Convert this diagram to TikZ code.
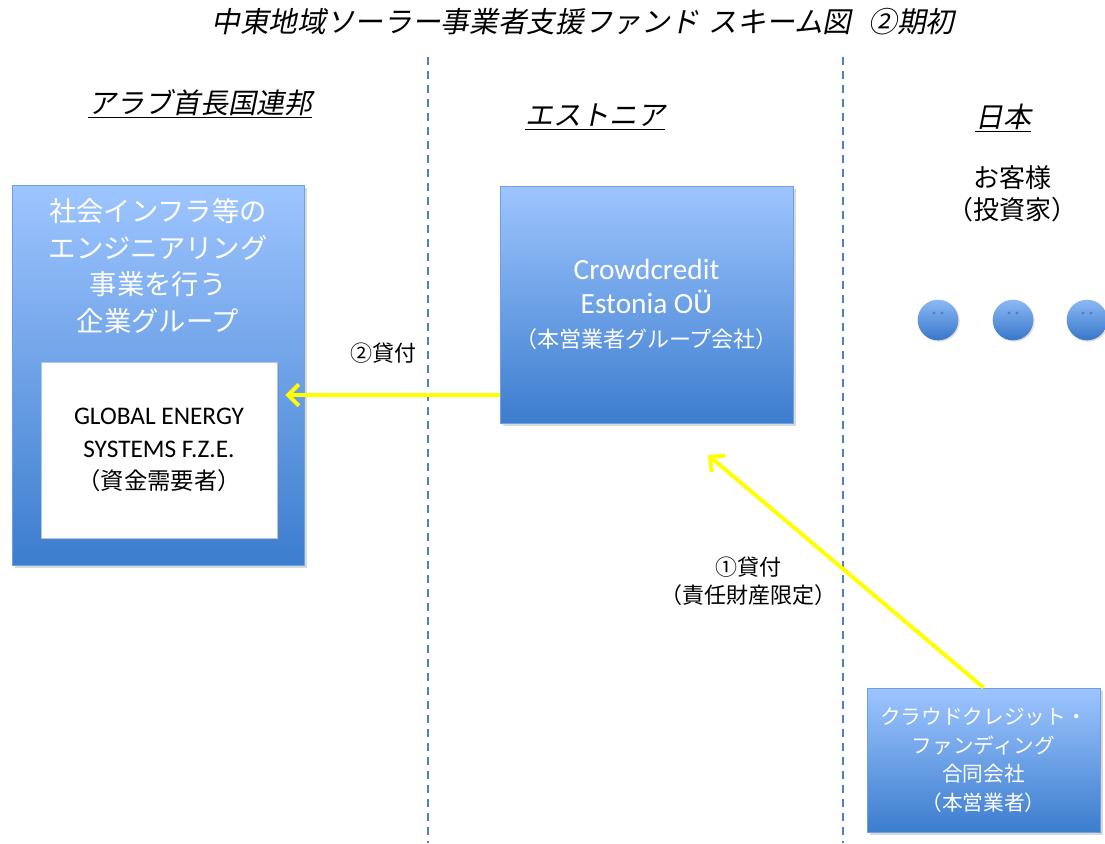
\documentclass[tikz,border=0pt]{standalone}
\usepackage{fontspec}
\usepackage{xcolor}
\usepackage{tikz}
\usetikzlibrary{arrows.meta,shadows}
\setmainfont{Carlito}
\newfontfamily\jp{Noto Sans CJK JP}
\newfontfamily\jpit[FakeSlant=0.2]{Noto Sans CJK JP}
\definecolor{boxtop}{RGB}{158,197,255}
\definecolor{boxbot}{RGB}{60,125,206}
\definecolor{boxedge}{RGB}{110,160,225}
\definecolor{divblue}{RGB}{79,129,189}
\definecolor{loanyellow}{RGB}{255,255,0}
\definecolor{facetop}{RGB}{140,185,245}
\definecolor{facebot}{RGB}{55,118,200}

\begin{document}
\begin{tikzpicture}[x=0.75pt,y=0.75pt,yscale=-1,xscale=1,
  bluebox/.style={rectangle, draw=boxedge, line width=0.6pt, top color=boxtop, bottom color=boxbot,
    drop shadow={opacity=0.3, shadow xshift=2pt, shadow yshift=-2pt}},
  whitebox/.style={rectangle, draw=boxedge!60, line width=0.5pt, fill=white,
    drop shadow={opacity=0.3, shadow xshift=1.5pt, shadow yshift=-1.5pt}},
  face/.style={circle, minimum size=30.5pt, inner sep=0pt, top color=facetop, bottom color=facebot,
    drop shadow={opacity=0.25, shadow xshift=1pt, shadow yshift=-1pt}},
  divider/.style={draw=divblue, line width=2.2pt, dash pattern=on 6pt off 4.5pt},
  loan/.style={draw=loanyellow, line width=3pt, -{Straight Barb[length=8pt,width=16pt,line width=3pt]}},
  heading/.style={inner sep=0.75pt, font=\jpit\fontsize{21}{25}\selectfont},
  labeltext/.style={inner sep=0.75pt, align=center, font=\jp\fontsize{16.5}{21}\selectfont}]

\useasboundingbox (0,0) rectangle (1105,843);

% title and country headings
\draw (583,22) node [inner sep=0.75pt, font=\jpit\fontsize{21.5}{25}\selectfont] (title) {中東地域ソーラー事業者支援ファンド\hspace{0.35em}スキーム図\hspace{0.6em}②期初};
\draw (200,104) node [heading] (uaehead) {\underline{アラブ首長国連邦}};
\draw (595,117) node [heading] (esthead) {\underline{エストニア}};
\draw (1003,118) node [heading] (jphead) {\underline{日本}};

% borders
\draw [divider] (428,57) -- (428,843);
\draw [divider] (843,57) -- (843,843);

% boxes
\draw (158,375) node [bluebox, minimum width=219pt, minimum height=285pt] (uae) {};
\draw (158,266) node [inner sep=0.75pt, align=center, text=white, font=\jp\fontsize{20.5}{27.5}\selectfont] (uaetext) {社会インフラ等の\\エンジニアリング\\事業を行う\\企業グループ};
\draw (159,450) node [whitebox, minimum width=177pt, minimum height=132pt, align=center, font=\fontsize{19}{24.5}\selectfont] (ges) {GLOBAL ENERGY\\SYSTEMS F.Z.E.\\{\jp\fontsize{17.5}{24}\selectfont （資金需要者）}};

\draw (646.5,304.5) node [bluebox, minimum width=219.75pt, minimum height=177.75pt, align=center, text=white, font=\fontsize{22}{25.5}\selectfont] (estonia) {Crowdcredit\\Estonia OÜ\\{\jp\fontsize{16.5}{25}\selectfont （本営業者グループ会社）}};

\draw (983.5,760) node [bluebox, minimum width=174.75pt, minimum height=108pt, align=center, text=white, font=\jp\fontsize{15.5}{21.5}\selectfont] (ccf) {クラウドクレジット・\\ファンディング\\合同会社\\（本営業者）};

% investors
\draw (1012,194) node [labeltext, font=\jp\fontsize{19.5}{24}\selectfont] (investors) {お客様\\（投資家）};
\foreach \i/\x in {1/938,2/1013,3/1087}{
  \draw (\x,320) node [face] (inv\i) {};
  \fill [facebot!80!black, opacity=0.5] (inv\i.center) ++(-4,-7) circle (1.2pt) ++(8,0) circle (1.2pt);
}

% loans
\coordinate (loanend) at (708,455);
\draw [loan] (ccf.north) -- (loanend);
\draw [loan, shorten >=6pt] (estonia.west |- 0,395) -- (ges.east |- 0,395);

\draw (383,353) node [labeltext] (loan2) {②貸付};
\draw (748,581) node [labeltext] (loan1) {①貸付\\（責任財産限定）};

\end{tikzpicture}
\end{document}
